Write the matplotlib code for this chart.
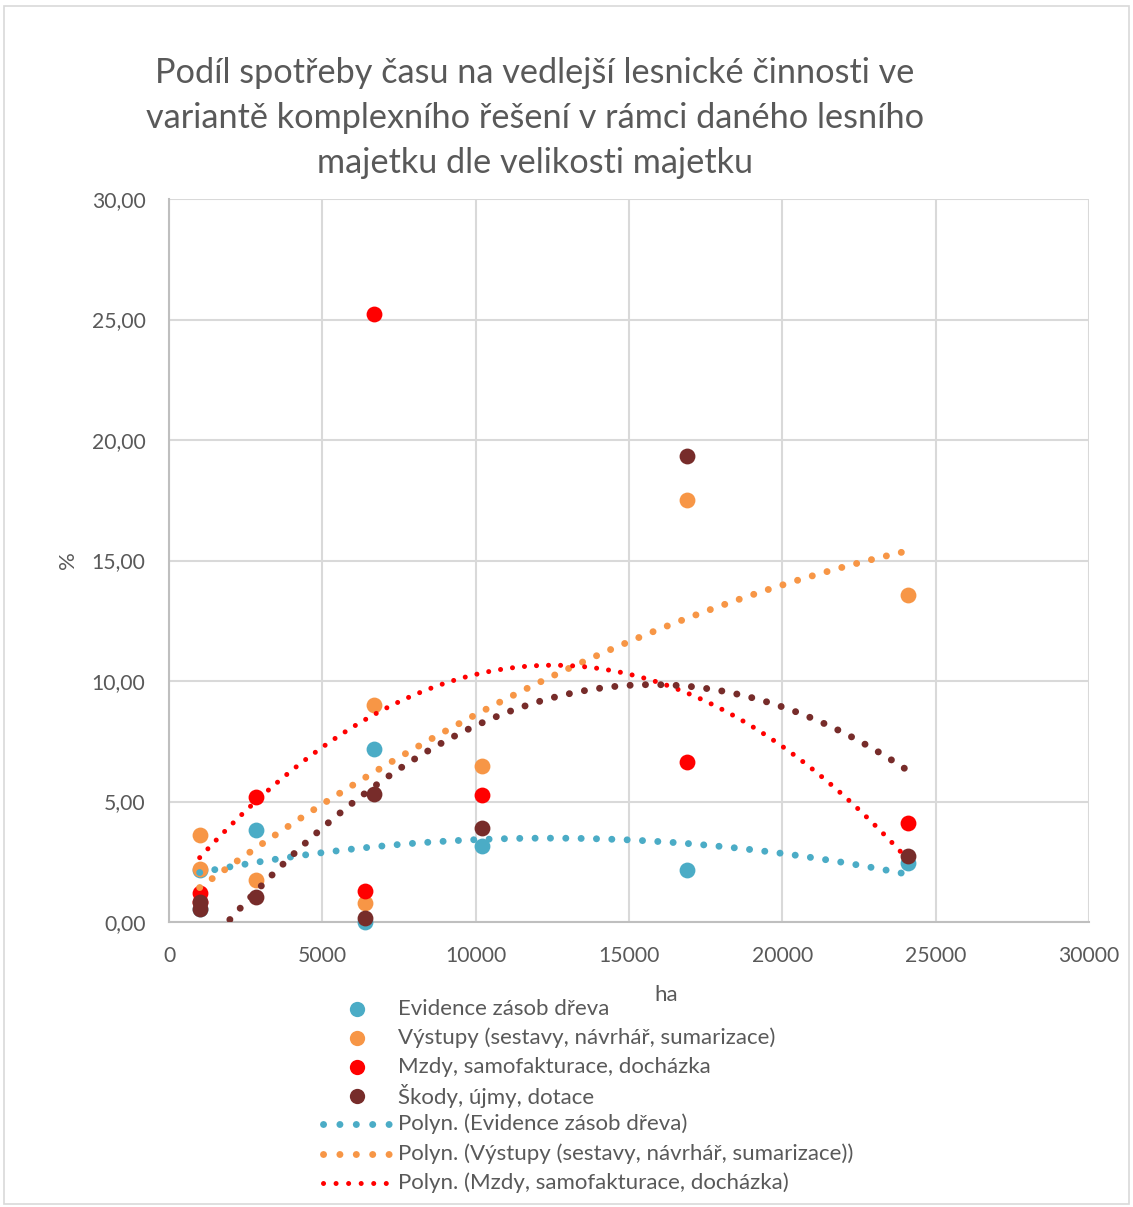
import matplotlib.pyplot as plt
import numpy as np
from matplotlib.lines import Line2D
from matplotlib.patches import Rectangle

plt.rcParams['font.family'] = ['Lato', 'DejaVu Sans']

# Velikost majetku (ha) a podíl spotřeby času (%)
x_ha = [1000, 1000, 2850, 6400, 6700, 10200, 16900, 24100]
evidence = [0.55, 2.15, 3.80, 0.00, 7.17, 3.17, 2.16, 2.45]
vystupy = [3.60, 2.20, 1.75, 0.80, 9.00, 6.49, 17.51, 13.56]
mzdy = [1.20, 0.85, 5.20, 1.30, 25.23, 5.27, 6.63, 4.12]
skody = [0.85, 0.55, 1.05, 0.15, 5.31, 3.91, 19.35, 2.74]

labels = ['Evidence zásob dřeva',
          'Výstupy (sestavy, návrhář, sumarizace)',
          'Mzdy, samofakturace, docházka',
          'Škody, újmy, dotace']
colors = ['#4BACC6', '#F79646', '#FF0000', '#772C2A']
series = [evidence, vystupy, mzdy, skody]

W, H = 1133, 1207
fig = plt.figure(figsize=(W / 100, H / 100), dpi=100)
ax = fig.add_axes([169 / W, 1 - 922 / H, (1089 - 169) / W, (922 - 199) / H])

grey_txt = '#595959'
grid_col = '#D9D9D9'

# body dat
for vals, col in zip(series, colors):
    ax.scatter(x_ha, vals, s=130, color=col, zorder=3, linewidths=0, clip_on=False)

# polynomické spojnice trendu (2. stupeň)
xs = np.linspace(min(x_ha), max(x_ha), 200)
trend_w = [5.0, 5.0, 3.6, 5.0]
trend_gap = [2.2, 2.2, 2.4, 2.2]
for vals, col, lw, gap in zip(series, colors, trend_w, trend_gap):
    coef = np.polyfit(x_ha, vals, 2)
    ax.plot(xs, np.polyval(coef, xs), color=col, lw=lw,
            linestyle=(0, (0.01, gap)), dash_capstyle='round', zorder=4)

ax.set_xlim(0, 30000)
ax.set_ylim(0, 30)
ax.set_xticks(np.arange(0, 30001, 5000))
ax.set_yticks(np.arange(0, 30.1, 5))
ax.set_yticklabels([f'{v:.2f}'.replace('.', ',') for v in np.arange(0, 30.1, 5)])
ax.tick_params(length=0, labelsize=15.2, labelcolor=grey_txt)
ax.tick_params(axis='x', pad=17)
ax.tick_params(axis='y', pad=17)
ax.grid(True, color=grid_col, lw=1.5)
ax.set_axisbelow(True)
for side in ['top', 'right']:
    ax.spines[side].set_visible(False)
for side in ['left', 'bottom']:
    ax.spines[side].set_color('#BFBFBF')
    ax.spines[side].set_linewidth(1.5)

fig.text(68 / W, 1 - 560 / H, '%', rotation=90, ha='center', va='center',
         fontsize=16, color=grey_txt)
fig.text(666 / W, 1 - 995 / H, 'ha', ha='center', va='center',
         fontsize=16, color=grey_txt)

title = ('Podíl spotřeby času na vedlejší lesnické činnosti ve\n'
         'variantě komplexního řešení v rámci daného lesního\n'
         'majetku dle velikosti majetku')
fig.text(535 / W, 1 - 118 / H, title, ha='center', va='center',
         fontsize=24.7, color=grey_txt, linespacing=1.5)

# legenda - ručně rozmístěné řádky
def fx(px):
    return px / W

def fy(py):
    return 1 - py / H

row_y = [1009, 1038, 1067, 1096, 1124, 1154, 1183]
for i, (col, lab) in enumerate(zip(colors, labels)):
    fig.add_artist(Line2D([fx(357)], [fy(row_y[i])], ls='none', marker='o', ms=11,
                          mec='none', color=col))
    fig.text(fx(398), fy(row_y[i]), lab, ha='left', va='center',
             fontsize=16, color=grey_txt)
leg_gap = [2.35, 2.35, 2.5]
for j, (col, lw, gap, lab) in enumerate(zip(colors[:3], trend_w[:3], leg_gap, labels[:3])):
    y = fy(row_y[4 + j])
    fig.add_artist(Line2D([fx(323), fx(390)], [y, y], color=col, lw=lw,
                          linestyle=(0, (0.01, gap)), dash_capstyle='round'))
    fig.text(fx(398), y, f'Polyn. ({lab})', ha='left', va='center',
             fontsize=16, color=grey_txt)

# rámeček grafu
fig.patches.append(Rectangle((4 / W, 1 - 1204 / H), 1125 / W, 1198 / H,
                             transform=fig.transFigure, fill=False,
                             edgecolor=grid_col, lw=1.2))

fig.savefig('out.png', dpi=100)
